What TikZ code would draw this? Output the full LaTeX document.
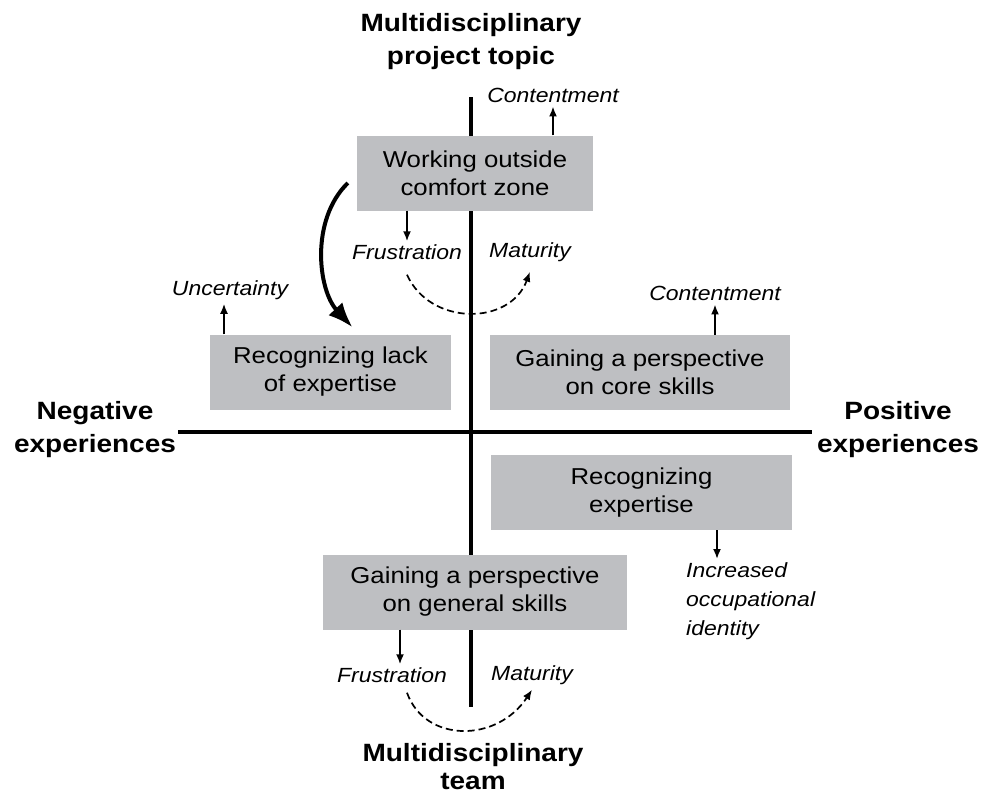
\documentclass[tikz,border=0pt]{standalone}
\usepackage{fontspec}
\setmainfont{Liberation Sans}[FakeStretch=1.12]
\usetikzlibrary{arrows}
\usetikzlibrary{arrows.meta}
\definecolor{boxgray}{RGB}{190,191,194}

\begin{document}
\begin{tikzpicture}[x = 1pt, y = -1pt]
\tikzstyle{BoxStyle}=[fill = boxgray, align = center, inner sep = 0pt,
minimum height = 75pt, font = \fontsize{23}{28}\selectfont]
\tikzstyle{AxisStyle}=[line width = 3.5pt]
\tikzstyle{TitleStyle}=[align = center, inner sep = 0pt,
font = \bfseries\fontsize{25}{33}\selectfont]
\tikzstyle{FeelStyle}=[inner sep = 0pt, font = \itshape\fontsize{20.5}{29}\selectfont]
\tikzstyle{SmallArrow}=[line width = 1.8pt, -{Latex[length = 10pt, width = 8pt]}]
\tikzstyle{DashArrow}=[line width = 1.7pt, dash pattern = on 7pt off 4pt,
-{Latex[length = 10pt, width = 8pt]}]
\tikzstyle{BigArrow}=[line width = 4pt, -{Latex[length = 25pt, width = 19pt]}]
\useasboundingbox (0,0) rectangle (984,801);
% axes
\coordinate (top) at (471,97);
\coordinate (bot) at (471,707);
\coordinate (left) at (178,432);
\coordinate (right) at (812,432);
\draw[AxisStyle] (top) -- (bot);
\draw[AxisStyle] (left) -- (right);
% axis titles
\node[TitleStyle] (topic) at (471,42) {Multidisciplinary\\project topic};
\node[TitleStyle, font = \bfseries\fontsize{25}{28}\selectfont] (team) at (473,767)
{Multidisciplinary\\team};
\node[TitleStyle] (neg) at (95,430) {Negative\\experiences};
\node[TitleStyle] (pos) at (898,430) {Positive\\experiences};
% boxes
\node[BoxStyle, minimum width = 236pt] (work) at (475,173) {Working outside\\comfort zone};
\node[BoxStyle, minimum width = 241pt] (lack) at (330.5,372) {Recognizing lack\\of expertise};
\node[BoxStyle, minimum width = 300pt] (core) at (640,372.5) {Gaining a perspective\\on core skills};
\node[BoxStyle, minimum width = 301pt] (expert) at (641.5,492.5) {Recognizing\\expertise};
\node[BoxStyle, minimum width = 304pt] (general) at (475,592) {Gaining a perspective\\on general skills};
% feelings
\node[FeelStyle] (cont1) at (553,95) {Contentment};
\node[FeelStyle] (frus1) at (407,252) {Frustration};
\node[FeelStyle] (mat1) at (530,252) {Maturity};
\node[FeelStyle] (unc) at (230,290) {Uncertainty};
\node[FeelStyle] (cont2) at (715,293) {Contentment};
\node[FeelStyle, align = left, anchor = north west] (ident) at (686,562)
{Increased\\occupational\\identity};
\node[FeelStyle] (frus2) at (392,675) {Frustration};
\node[FeelStyle] (mat2) at (532,675) {Maturity};
% arrows
\draw[SmallArrow, shorten > = 4pt] (work.north -| cont1) -- (cont1.south);
\draw[SmallArrow, shorten > = 3pt] (work.south -| frus1) -- (frus1.north);
\draw[SmallArrow, shorten > = 4pt] (lack.north -| 224,0) -- (unc.south -| 224,0);
\draw[SmallArrow, shorten > = 4pt] (core.north -| cont2) -- (cont2.south);
\draw[SmallArrow, shorten > = 3pt] (expert.south -| 717,0) -- (ident.north -| 717,0);
\draw[SmallArrow, shorten > = 3pt] (general.south -| 400,0) -- (frus2.north -| 400,0);
\draw[DashArrow] ([yshift = -15pt]frus1.south) .. controls (430,326) and (510,326)
.. ([yshift = -10pt]mat1.south);
\draw[DashArrow] ([xshift = 15pt, yshift = -10pt]frus2.south) .. controls (425,743) and (497,743)
.. ([yshift = -5pt]mat2.south);
\draw[BigArrow] ([xshift = -9pt, yshift = -10pt]work.west) .. controls (310,220) and (318,290)
.. ([xshift = 22pt, yshift = 7pt]lack.north);
\end{tikzpicture}
\end{document}
